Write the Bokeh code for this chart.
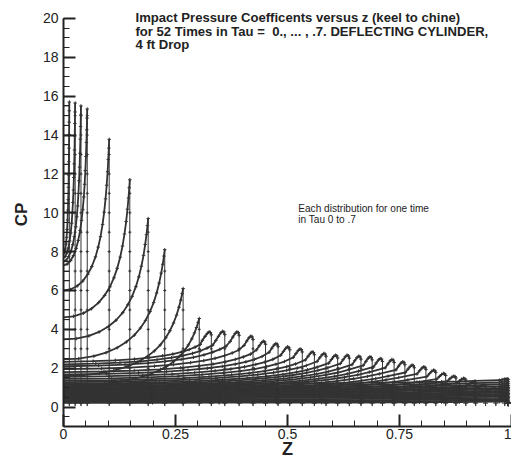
import numpy as np
from bokeh.plotting import figure
from bokeh.models import Range1d, Label, FixedTicker
from bokeh.embed import file_html
from bokeh.resources import INLINE

# ---- data ----
# early times: sharp peaks (z at wetted end, peak CP, CP at keel z=0)
early_c    = [0.013, 0.026, 0.039, 0.053, 0.102, 0.148, 0.189, 0.226, 0.267, 0.303]
early_peak = [15.70, 15.65, 15.50, 15.34, 13.78, 11.70, 9.70, 8.10, 6.10, 4.56]
early_base = [7.90, 7.70, 7.50, 7.30, 6.00, 4.62, 3.48, 2.45, 1.60, 1.10]

# middle times: rounded "hook" peaks travelling towards the chine
hook_c    = [0.330, 0.360, 0.392, 0.423, 0.451, 0.479, 0.505, 0.533, 0.560,
             0.586, 0.612, 0.638, 0.664, 0.689, 0.712, 0.738, 0.762, 0.783,
             0.809, 0.831, 0.853, 0.876, 0.898, 0.920, 0.942, 0.965, 0.985]
hook_peak = [3.87, 3.90, 3.87, 3.65, 3.39, 3.27, 3.10, 2.99, 2.84,
             2.76, 2.67, 2.67, 2.62, 2.59, 2.50, 2.45, 2.33, 2.16,
             2.07, 1.90, 1.73, 1.59, 1.48, 1.30, 1.13, 0.96, 0.87]
hook_base = [2.33, 2.20, 2.10, 1.95, 1.80, 1.68, 1.56, 1.45, 1.36,
             1.28, 1.20, 1.13, 1.06, 1.00, 0.95, 0.90, 0.85, 0.80,
             0.76, 0.72, 0.68, 0.64, 0.60, 0.57, 0.54, 0.50, 0.47]

# late times: chine wetted, whole section loaded
wet_c    = 0.993
wet_base = [1.20, 1.10, 1.01, 0.93, 0.86, 0.79, 0.72, 0.65, 0.58, 0.52, 0.46, 0.40, 0.34, 0.28, 0.22]
wet_end  = [1.45, 1.33, 1.22, 1.12, 1.03, 0.95, 0.87, 0.79, 0.71, 0.64, 0.57, 0.50, 0.43, 0.36, 0.30]

# distribution shapes (fraction of wetted length, fraction of rise)
early_r = [0, .15, .30, .42, .53, .62, .70, .76, .81, .855, .89, .92, .945, .965, .98, .992, 1.0]
early_f = [0, .007, .030, .062, .107, .159, .222, .287, .356, .437, .518, .606, .696, .786, .867, .942, 1.0]
hook_r  = [0, .20, .35, .48, .58, .67, .74, .80, .85, .89, .925]
hook_f  = [0, .02, .05, .09, .14, .20, .26, .33, .41, .49, .58]
hook_dz = [-0.020, -0.014, -0.009, -0.005, -0.002, 0.0]
hook_hf = [.72, .85, .95, 1.0, .98, .90]
drop_end = 0.05

title_lines = ["Impact Pressure Coefficents versus z (keel to chine)",
               "for 52 Times in Tau = \u00a00., ... , .7. DEFLECTING CYLINDER,",
               "4 ft Drop"]
note_lines = ["Each distribution for one time", "in Tau 0 to .7"]

x_ticks = [0, 0.25, 0.5, 0.75, 1]
x_tick_labels = ["0", "0.25", "0.5", "0.75", "1"]
y_ticks = [0, 2, 4, 6, 8, 10, 12, 14, 16, 18, 20]

# ---- build curves ----
curve_xs, curve_ys, drop_xs, drop_ys = [], [], [], []
for c, pk, b in zip(early_c, early_peak, early_base):
    curve_xs.append([c * r for r in early_r])
    curve_ys.append([b + (pk - b) * f for f in early_f])
for c, pk, b in zip(hook_c, hook_peak, hook_base):
    curve_xs.append([c * r for r in hook_r] + [c + d for d in hook_dz])
    curve_ys.append([b + (pk - b) * f for f in hook_f] + [b + (pk - b) * f for f in hook_hf])
for b, e in zip(wet_base, wet_end):
    curve_xs.append([wet_c * r for r in hook_r] + [wet_c + d for d in hook_dz])
    curve_ys.append([b + (e - b) * f for f in hook_f] + [b + (e - b) * f for f in hook_hf])

for xs, ys in zip(curve_xs, curve_ys):
    drop_xs.append([xs[-1], xs[-1]])
    drop_ys.append([ys[-1], drop_end])

pt_x = [x for xs in curve_xs for x in xs]
pt_y = [y for ys in curve_ys for y in ys]

# ladder rungs on the keel drop line, sparse dots on the others
rung_levels = list(np.arange(0.5, 16.0, 0.5))
dot_levels = list(np.arange(1.0, 16.0, 1.0))
rung_x, rung_y, dot_x, dot_y, end_x, end_y = [], [], [], [], [], []
for i, (xs, ys) in enumerate(zip(drop_xs, drop_ys)):
    if i < 1:
        for lv in rung_levels:
            if lv < ys[0]:
                rung_x.append(xs[0] / 2); rung_y.append(lv)
    else:
        for lv in dot_levels:
            if lv < ys[0] - 0.3:
                dot_x.append(xs[0]); dot_y.append(lv)
    end_x.append(xs[0]); end_y.append(drop_end + 0.15)

col = "#333333"
font = "Liberation Sans"
# frame reaches a little above CP=20 so the header text is not clipped;
# the y axis itself stops at 20 through its bounds
p = figure(width=511, height=462, output_backend="svg", toolbar_location=None,
           x_range=Range1d(0, 1), y_range=Range1d(-1, 20.823),
           min_border_left=63, min_border_right=0, min_border_top=2, min_border_bottom=36)
p.outline_line_color = None
p.grid.visible = False
p.background_fill_color = "white"

p.multi_line(drop_xs, drop_ys, line_color=col, line_width=1.0)
p.multi_line(curve_xs, curve_ys, line_color=col, line_width=1.8)
p.scatter(pt_x, pt_y, marker="cross", size=3.5, line_color=col, line_width=1)
p.scatter(rung_x, rung_y, marker="dash", size=6, line_color=col, line_width=1)
p.scatter(dot_x, dot_y, marker="cross", size=3, line_color=col, line_width=1)
p.scatter(end_x, end_y, marker="cross", size=5, line_color=col, line_width=1)

for ax in (p.xaxis[0], p.yaxis[0]):
    ax.axis_line_width = 2
    ax.axis_line_color = "#222222"
    ax.major_tick_in = 12
    ax.major_tick_out = 0
    ax.minor_tick_in = 6
    ax.minor_tick_out = 0
    ax.major_tick_line_width = 2
    ax.major_tick_line_color = "#222222"
    ax.minor_tick_line_color = "#222222"
    ax.minor_tick_line_width = 1
    ax.major_label_text_font = font
    ax.major_label_text_font_size = "14px"
    ax.major_label_text_color = "#222222"
    ax.axis_label_text_font = font
    ax.axis_label_text_font_style = "bold"
    ax.axis_label_text_color = "#222222"

p.xaxis.ticker = FixedTicker(ticks=x_ticks, minor_ticks=list(np.round(np.arange(0, 1.001, 0.05), 3)))
p.xaxis.major_label_overrides = dict(zip(x_ticks, x_tick_labels))
p.xaxis.major_label_standoff = 2
p.xaxis.axis_label = "Z"
p.xaxis.axis_label_text_font_size = "18px"
p.xaxis.axis_label_standoff = -3

p.yaxis.bounds = (-1, 20)
p.yaxis.ticker = FixedTicker(ticks=y_ticks, minor_ticks=list(np.arange(-1, 20.01, 0.5)))
p.yaxis.axis_label = "CP"
p.yaxis.axis_label_text_font_size = "17px"
p.yaxis.major_label_standoff = 5
p.yaxis.axis_label_standoff = 9

for txt, yv in zip(title_lines, [20.036, 19.346, 18.636]):
    p.add_layout(Label(x=0.1607, y=yv, text=txt, text_font=font, text_font_style="bold",
                       text_font_size="13.1px", text_color="#222222", text_baseline="alphabetic"))
for txt, yv in zip(note_lines, [10.196, 9.656]):
    p.add_layout(Label(x=0.524, y=yv, text=txt, text_font=font,
                       text_font_size="10.1px", text_color="#222222", text_baseline="alphabetic"))

open("out.html", "w").write(file_html(p, INLINE))
